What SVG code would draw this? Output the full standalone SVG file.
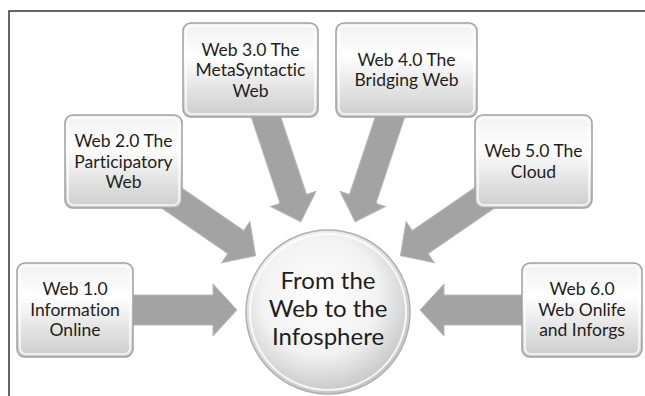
<svg xmlns="http://www.w3.org/2000/svg" width="645" height="396" viewBox="0 0 645 396">
  <defs>
    <linearGradient id="boxGrad" x1="0" y1="0" x2="0" y2="1">
      <stop offset="0" stop-color="#f0f0f0"/>
      <stop offset="0.35" stop-color="#ffffff"/>
      <stop offset="1" stop-color="#cccccc"/>
    </linearGradient>
    <radialGradient id="circGrad" cx="0.45" cy="0.4" r="0.6">
      <stop offset="0" stop-color="#ffffff"/>
      <stop offset="0.6" stop-color="#f2f2f2"/>
      <stop offset="1" stop-color="#c6c6c6"/>
    </radialGradient>
    <style>
      .box { fill: url(#boxGrad); stroke: #a0a0a0; stroke-width: 1.5; }
      .bevel { fill: none; stroke: #ffffff; stroke-width: 1.5; opacity: 0.9; }
      .lbl { font-family: Lato, "Liberation Sans", sans-serif; font-size: 17.5px; fill: #1e1e1e; text-anchor: middle; font-variant-ligatures: none; }
      .big { font-family: Lato, "Liberation Sans", sans-serif; font-size: 24px; fill: #1e1e1e; text-anchor: middle; font-variant-ligatures: none; }
      .arrow { fill: #a3a3a3; stroke: #b9b9b9; stroke-width: 1; }
      .frame { fill: none; stroke: #333333; stroke-width: 1.5; }
    </style>
  </defs>
  <rect x="0" y="0" width="645" height="396" fill="#ffffff"/>
  <path class="frame" d="M9,396 V11 H645"/>

  <g id="connectors">
    <path class="arrow" transform="translate(118,310)" d="M0,-15 H95 V-26 L119,0 L95,26 V15 H0 Z"/>
    <path class="arrow" transform="translate(537,310) rotate(180)" d="M0,-15 H93 V-26 L117,0 L93,26 V15 H0 Z"/>
    <path class="arrow" transform="translate(160,190) rotate(34.5)" d="M0,-14 H92 V-25 L116,0 L92,25 V14 H0 Z"/>
    <path class="arrow" transform="translate(496,190) rotate(145.5)" d="M0,-14 H92 V-25 L116,0 L92,25 V14 H0 Z"/>
    <path class="arrow" transform="translate(262,105) rotate(71.6)" d="M0,-14 H99 V-24 L123,0 L99,24 V14 H0 Z"/>
    <path class="arrow" transform="translate(394,105) rotate(108.4)" d="M0,-14 H99 V-24 L123,0 L99,24 V14 H0 Z"/>
  </g>

  <g id="web1">
    <rect class="box" x="17" y="263" width="116" height="94" rx="8"/>
    <rect class="bevel" x="20" y="266" width="110" height="88" rx="6"/>
    <text class="lbl" x="75" y="295">Web 1.0</text>
    <text class="lbl" x="75" y="315.5">Information</text>
    <text class="lbl" x="75" y="336">Online</text>
  </g>

  <g id="web2">
    <rect class="box" x="65" y="115" width="117" height="93" rx="8"/>
    <rect class="bevel" x="68" y="118" width="111" height="87" rx="6"/>
    <text class="lbl" x="123.5" y="147">Web 2.0 The</text>
    <text class="lbl" x="123.5" y="167.5">Participatory</text>
    <text class="lbl" x="123.5" y="188">Web</text>
  </g>

  <g id="web3">
    <rect class="box" x="183" y="23" width="135" height="94" rx="8"/>
    <rect class="bevel" x="186" y="26" width="129" height="88" rx="6"/>
    <text class="lbl" x="250.5" y="55.5">Web 3.0 The</text>
    <text class="lbl" x="250.5" y="76">MetaSyntactic</text>
    <text class="lbl" x="250.5" y="96.5">Web</text>
  </g>

  <g id="web4">
    <rect class="box" x="336" y="23" width="141" height="94" rx="8"/>
    <rect class="bevel" x="339" y="26" width="135" height="88" rx="6"/>
    <text class="lbl" x="406.5" y="65.5">Web 4.0 The</text>
    <text class="lbl" x="406.5" y="86">Bridging Web</text>
  </g>

  <g id="web5">
    <rect class="box" x="475" y="115" width="117" height="93" rx="8"/>
    <rect class="bevel" x="478" y="118" width="111" height="87" rx="6"/>
    <text class="lbl" x="533.5" y="157">Web 5.0 The</text>
    <text class="lbl" x="533.5" y="177.5">Cloud</text>
  </g>

  <g id="web6">
    <rect class="box" x="522" y="263" width="120" height="94" rx="8"/>
    <rect class="bevel" x="525" y="266" width="114" height="88" rx="6"/>
    <text class="lbl" x="582" y="295">Web 6.0</text>
    <text class="lbl" x="582" y="315.5">Web Onlife</text>
    <text class="lbl" x="582" y="336">and Inforgs</text>
  </g>

  <g id="center">
    <circle cx="328" cy="312" r="82" fill="url(#circGrad)" stroke="#b0b0b0" stroke-width="1.5"/>
    <circle cx="328" cy="312" r="78" fill="none" stroke="#ffffff" stroke-width="2" opacity="0.8"/>
    <text class="big" x="328" y="289">From the</text>
    <text class="big" x="328" y="317">Web to the</text>
    <text class="big" x="328" y="345">Infosphere</text>
  </g>
</svg>
